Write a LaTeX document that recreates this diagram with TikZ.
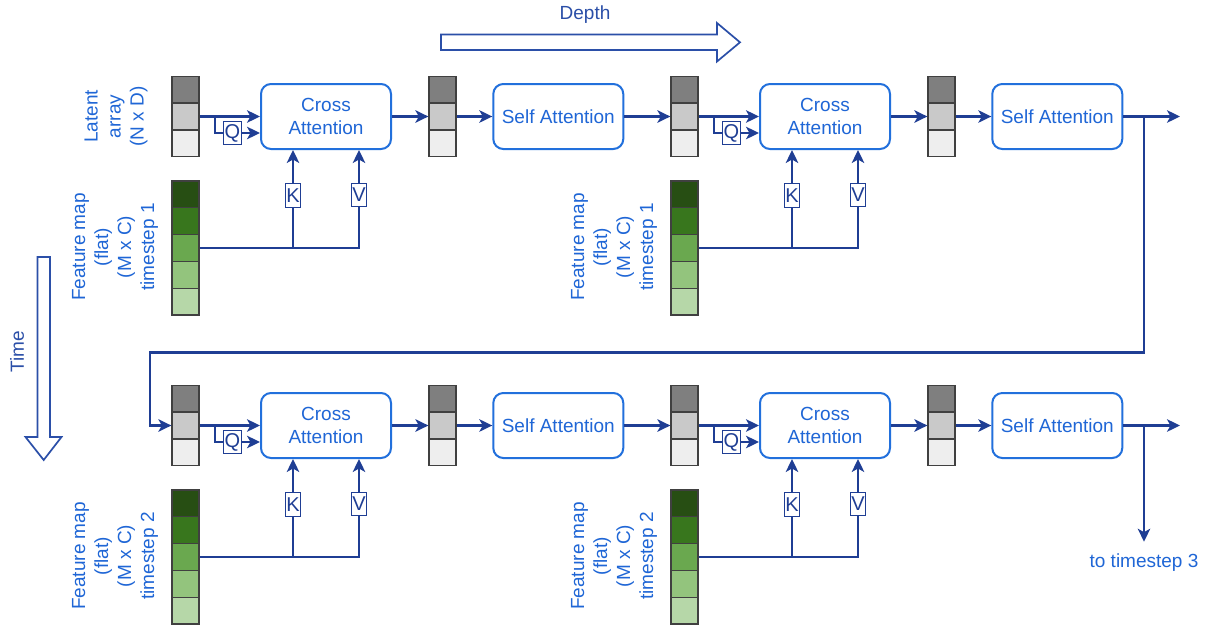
\documentclass[tikz,border=0pt]{standalone}
\usepackage{fontspec}
\setmainfont{Liberation Sans}
\usetikzlibrary{arrows.meta,calc}

\definecolor{txtblue}{HTML}{1F66D6}
\definecolor{boxblue}{HTML}{2270DC}
\definecolor{navy}{HTML}{1F3E94}
\definecolor{axisblue}{HTML}{2B4FA8}
\definecolor{cellA}{HTML}{7F7F7F}
\definecolor{cellB}{HTML}{C9C9C9}
\definecolor{cellC}{HTML}{EEEEEE}
\definecolor{gA}{HTML}{274E13}
\definecolor{gB}{HTML}{38761D}
\definecolor{gC}{HTML}{6AA84F}
\definecolor{gD}{HTML}{93C47D}
\definecolor{gE}{HTML}{B6D7A8}

\begin{document}
\begin{tikzpicture}[x=1pt,y=-1pt,
  every node/.style={font=\fontsize{19}{23}\selectfont},
  block/.style={draw=boxblue, line width=2pt, rounded corners=10pt,
    minimum width=130pt, minimum height=65pt, text=txtblue,
    align=center, fill=white, inner sep=0pt},
  cell/.style={draw=black!75, line width=1.3pt, minimum width=27pt,
    minimum height=26.8pt, inner sep=0pt},
  conn/.style={draw=navy, line width=2.1pt},
  arr/.style={conn, -{Stealth[length=13pt,width=12.5pt,inset=3.5pt]}},
  qkv/.style={draw=navy, line width=1pt, fill=white, text=navy,
    inner xsep=1.2pt, inner ysep=0pt, minimum height=23.5pt,
    font=\fontsize{20}{23}\selectfont},
  side/.style={text=txtblue, align=center, rotate=90, inner sep=0pt},
  bigarrow/.style={draw=axisblue, line width=1.7pt, fill=white, line join=miter}
]
\fill[white] (0,0) rectangle (1210,624);
\useasboundingbox (0,0) rectangle (1210,624);

% axis arrows
\node[text=axisblue] (depth) at (585,15) {Depth};
\draw[bigarrow] (441,34.5) -- (717,34.5) -- (717,23) -- (740,42.3)
  -- (717,61.5) -- (717,50) -- (441,50) -- cycle;
\node[text=axisblue, rotate=90] (time) at (17,352) {Time};
\draw[bigarrow] (37.5,257) -- (50,257) -- (50,437) -- (61.5,437)
  -- (43.7,460) -- (25.5,437) -- (37.5,437) -- cycle;

\node[side] (latlabel) at (116,116.5) {Latent\\array\\(N x D)};

\foreach \r/\dy in {1/0,2/309}{
  \foreach \u/\dx in {1/0,2/499}{
    % latent array entering cross attention
    \node[cell, fill=cellA] (la\r\u-1) at (185.5+\dx, 89.7+\dy) {};
    \node[cell, fill=cellB] (la\r\u-2) at (185.5+\dx,116.5+\dy) {};
    \node[cell, fill=cellC] (la\r\u-3) at (185.5+\dx,143.3+\dy) {};
    % latent array after cross attention
    \node[cell, fill=cellA] (lb\r\u-1) at (442.5+\dx, 89.7+\dy) {};
    \node[cell, fill=cellB] (lb\r\u-2) at (442.5+\dx,116.5+\dy) {};
    \node[cell, fill=cellC] (lb\r\u-3) at (442.5+\dx,143.3+\dy) {};
    % flattened feature map
    \node[cell, fill=gA] (fm\r\u-1) at (185.5+\dx,194.4+\dy) {};
    \node[cell, fill=gB] (fm\r\u-2) at (185.5+\dx,221.2+\dy) {};
    \node[cell, fill=gC] (fm\r\u-3) at (185.5+\dx,248.0+\dy) {};
    \node[cell, fill=gD] (fm\r\u-4) at (185.5+\dx,274.8+\dy) {};
    \node[cell, fill=gE] (fm\r\u-5) at (185.5+\dx,301.6+\dy) {};
    \node[side] (fmlabel\r\u) at (115+\dx,247+\dy)
      {Feature map\\(flat)\\(M x C)\\timestep \r};
    % attention blocks
    \node[block] (ca\r\u) at (326+\dx,116.5+\dy) {Cross\\Attention};
    \node[block] (sa\r\u) at (558.3+\dx,116.5+\dy) {Self Attention};
    % connectors
    \coordinate (q\r\u) at ($(la\r\u-2.east)+(15,0)$);
    \coordinate (qin\r\u) at ($(ca\r\u.west)+(0,16.5)$);
    \coordinate (k\r\u) at ($(ca\r\u.south west)!0.25!(ca\r\u.south east)$);
    \coordinate (v\r\u) at ($(ca\r\u.south west)!0.75!(ca\r\u.south east)$);
    \draw[arr] (la\r\u-2.east) -- (ca\r\u.west);
    \draw[arr] (q\r\u) |- node[qkv, pos=0.697] (qlab\r\u) {Q} (qin\r\u);
    \draw[arr] (fm\r\u-3.east) -| node[qkv, pos=0.77] (vlab\r\u) {V} (v\r\u);
    \draw[arr] (fm\r\u-3.east -| k\r\u) -- node[qkv, pos=0.535] (klab\r\u) {K} (k\r\u);
    \draw[arr] (ca\r\u.east) -- (lb\r\u-2.west);
    \draw[arr] (lb\r\u-2.east) -- (sa\r\u.west);
  }
  \draw[arr] (sa\r1.east) -- (la\r2-2.west);
}

% outputs and the wrap-around to the next timestep
\coordinate (out1) at (1180,116.5);
\coordinate (turn1) at (1144,116.5);
\coordinate (r1) at (1144,352.5);
\coordinate (r2) at (150,352.5);
\draw[arr] (sa12.east) -- (out1);
\draw[arr] (turn1) -- (r1) -- (r2) |- (la21-2.west);

\coordinate (out2) at (1180,425.5);
\coordinate (turn2) at (1144,425.5);
\draw[arr] (sa22.east) -- (out2);
\node[text=txtblue, anchor=north, inner sep=0pt] (ts3) at (1144,553.5) {to timestep 3};
\draw[arr, shorten >=11.8pt] (turn2) -- (ts3.north);
\end{tikzpicture}
\end{document}
